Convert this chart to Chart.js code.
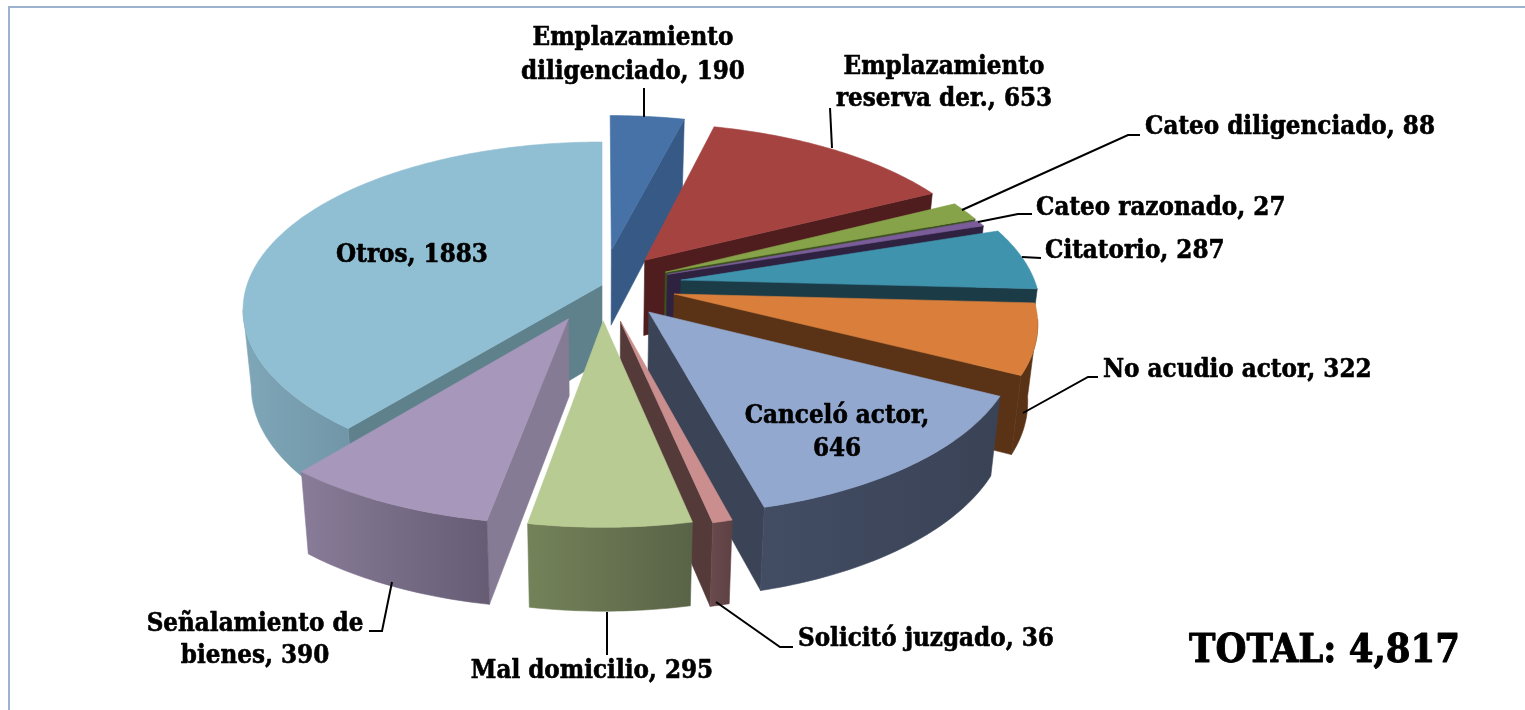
<!DOCTYPE html>
<html><head><meta charset="utf-8">
<style>html,body{margin:0;padding:0;background:#fff}canvas{display:block}</style>
<script src="https://cdn.jsdelivr.net/npm/chart.js@4"></script>
</head><body><canvas id="c" width="1525" height="710"></canvas>
<script>
const categories=["Emplazamiento diligenciado","Emplazamiento reserva der.","Cateo diligenciado","Cateo razonado","Citatorio","No acudio actor","Canceló actor","Solicitó juzgado","Mal domicilio","Señalamiento de bienes","Otros"];
const values=[190,653,88,27,287,322,646,36,295,390,1883];
const topColors=["#4672a8","#a54341","#87a349","#7a5c9a","#3f93ad","#d97f3b","#92a8cf","#c98e8d","#b8cb92","#a797bb","#90bfd3"];
const wallColors=["#365a85","#4f1d1d","#3d5020","#2e2240","#1b3b47","#5a3317","#3b4457","#553a3a","#66714f","#857b94","#5e818c"];
const rimLeft=["#365a85","#4f1d1d","#3d5020","#2e2240","#1b3b47","#5a3317","#424c63","#6a4a4c","#748259","#887c98","#7fa7b8"];
const rimRight=["#365a85","#4f1d1d","#3d5020","#2e2240","#1b3b47","#5a3317","#3a4356","#5e4143","#596347","#665c74","#7095a7"];
const explode=[78,70,70,70,80,74,73,78,75,78,0];
const totalLabel="TOTAL: 4,817";

const FONT='bold 25.7px "DejaVu Serif Condensed"';
const textLabels=[
 {i:0,lines:["Emplazamiento","diligenciado, 190"],x:633,y:38,dy:34,align:"center"},
 {i:1,lines:["Emplazamiento","reserva der., 653"],x:944,y:67,dy:32,align:"center"},
 {i:2,lines:["Cateo diligenciado, 88"],x:1145,y:127,align:"left"},
 {i:3,lines:["Cateo razonado, 27"],x:1036,y:208,align:"left"},
 {i:4,lines:["Citatorio, 287"],x:1045,y:251,align:"left"},
 {i:5,lines:["No acudio actor, 322"],x:1103,y:370,align:"left"},
 {i:6,lines:["Canceló actor,","646"],x:837,y:416,dy:33,align:"center"},
 {i:7,lines:["Solicitó juzgado, 36"],x:798,y:639,align:"left"},
 {i:8,lines:["Mal domicilio, 295"],x:592,y:671,align:"center"},
 {i:9,lines:["Señalamiento de","bienes, 390"],x:255,y:624,dy:32,align:"center"},
 {i:10,lines:["Otros, 1883"],x:412,y:255,align:"center"}
];
const leaders=[
 [[644,88],[644,117]],
 [[830,108],[832,148]],
 [[1140,135],[1128,135],[962,210]],
 [[1032,214],[1018,214],[978,222]],
 [[1041,258],[1022,257]],
 [[1098,377],[1088,377],[1023,413]],
 [[793,647],[780,647],[716,602]],
 [[607,612],[607,655]],
 [[369,631],[382,631],[392,582]]
];

const CX=602,CY=285,R=355,K=0.4625,D=2400,DEPTH=76,BASEX=0.977;
const RIM_FROM=98.5*Math.PI/180,RIM_TO=261.5*Math.PI/180;
function project(xw,yw,low){
  const s=1/(1-yw/D);
  return [CX+xw*s*(low?BASEX:1), CY+yw*K*s+(low?DEPTH*Math.sqrt(s):0)];
}
function poly(ctx,pts,fill){
  ctx.beginPath();
  pts.forEach((p,i)=>i?ctx.lineTo(p[0],p[1]):ctx.moveTo(p[0],p[1]));
  ctx.closePath();
  ctx.fillStyle=fill;ctx.strokeStyle=fill;ctx.lineWidth=0.6;
  ctx.fill();ctx.stroke();
}
const pie3d={
  id:"pie3d",
  beforeDatasetDraw(chart,args){
    const ctx=chart.ctx;
    const arcs=chart.getDatasetMeta(args.index).data;
    const slices=arcs.map((arc,i)=>{
      const a=arc.startAngle+Math.PI/2,b=arc.endAngle+Math.PI/2,m=(a+b)/2;
      const off=arc.options.offset;
      return {i,a,b,m,ox:off*Math.sin(m),oy:-off*Math.cos(m)};
    }).sort((p,q)=>Math.cos(q.m)-Math.cos(p.m));
    ctx.save();
    slices.forEach(sl=>{
      const pt=(t,r,low)=>project(sl.ox+r*Math.sin(t),sl.oy-r*Math.cos(t),low);
      const wall=t=>[pt(t,0,false),pt(t,R,false),pt(t,R,true),pt(t,0,true)];
      if(-Math.sin(sl.a)>0) poly(ctx,wall(sl.a),wallColors[sl.i]);
      if(Math.sin(sl.b)>0) poly(ctx,wall(sl.b),wallColors[sl.i]);
      const lo=Math.max(sl.a,RIM_FROM),hi=Math.min(sl.b,RIM_TO);
      if(hi>lo){
        const n=Math.ceil((hi-lo)*180/Math.PI)+1,up=[],dn=[];
        for(let j=0;j<=n;j++){const t=lo+(hi-lo)*j/n;up.push(pt(t,R,false));dn.unshift(pt(t,R,true));}
        const xs=up.concat(dn).map(p=>p[0]);
        const g=ctx.createLinearGradient(Math.min(...xs),0,Math.max(...xs),0);
        g.addColorStop(0,rimLeft[sl.i]);g.addColorStop(1,rimRight[sl.i]);
        poly(ctx,up.concat(dn),g);
      }
      const face=[pt(sl.a,0,false)];
      const n=Math.ceil((sl.b-sl.a)*180/Math.PI)+1;
      for(let j=0;j<=n;j++)face.push(pt(sl.a+(sl.b-sl.a)*j/n,R,false));
      poly(ctx,face,topColors[sl.i]);
    });
    ctx.restore();
    return false;
  },
  afterDraw(chart){
    const ctx=chart.ctx;
    ctx.save();
    ctx.strokeStyle="#9db2cf";ctx.lineWidth=2;
    ctx.beginPath();ctx.moveTo(9,710);ctx.lineTo(9,7);ctx.lineTo(1525,7);ctx.stroke();
    ctx.strokeStyle="#000";ctx.lineWidth=2;
    leaders.forEach(l=>{ctx.beginPath();l.forEach((p,i)=>i?ctx.lineTo(p[0],p[1]):ctx.moveTo(p[0],p[1]));ctx.stroke();});
    ctx.fillStyle="#000";ctx.font=FONT;ctx.textBaseline="middle";
    ctx.lineWidth=0.6;ctx.lineJoin="round";
    textLabels.forEach(t=>{
      ctx.textAlign=t.align;
      t.lines.forEach((s,j)=>{const y=t.y+j*(t.dy||0);ctx.fillText(s,t.x,y);ctx.strokeText(s,t.x,y);});
    });
    ctx.textAlign="left";ctx.font='bold 39.5px "DejaVu Serif Condensed"';ctx.lineWidth=0.9;
    ctx.fillText(totalLabel,1189,652);ctx.strokeText(totalLabel,1189,652);
    ctx.restore();
  }
};
new Chart(document.getElementById("c"),{
  type:"pie",
  data:{labels:categories,datasets:[{data:values,backgroundColor:topColors,offset:explode}]},
  options:{responsive:false,animation:false,events:[],rotation:0,
    plugins:{legend:{display:false},tooltip:{enabled:false}}},
  plugins:[pie3d]
});
</script></body></html>
